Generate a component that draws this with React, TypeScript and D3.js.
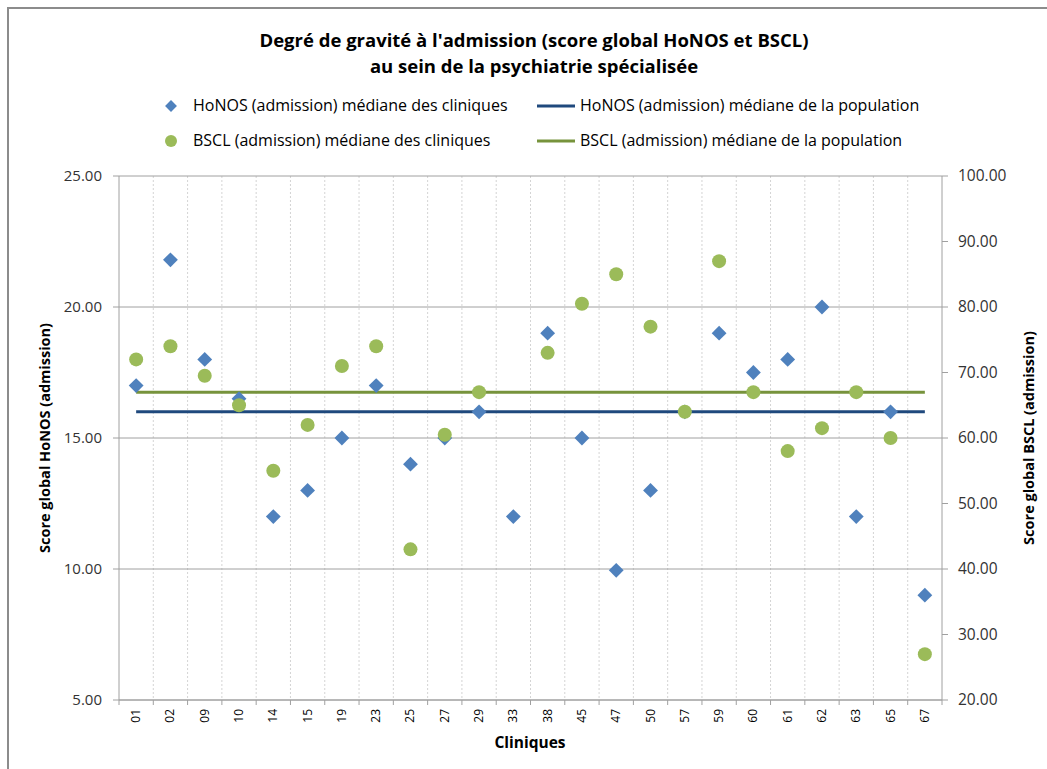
import React from "react";
import * as d3 from "d3";

const categories = ["01","02","09","10","14","15","19","23","25","27","29","33","38","45","47","50","57","59","60","61","62","63","65","67"];
const honosValues: (number | null)[] = [17,21.8,18,16.5,12,13,15,17,14,15,16,12,19,15,9.95,13,16,19,17.5,18,20,12,16,9];
const bsclValues: (number | null)[] = [72,74,69.5,65,55,62,71,74,43,60.5,67,null,73,80.5,85,77,64,87,67,58,61.5,67,60,27];
const honosMedian = 16;
const bsclMedian = 67;
const leftTicks = [5,10,15,20,25];
const rightTicks = [20,30,40,50,60,70,80,90,100];

const W = 1047, H = 769;
const M = { left: 119, right: 942, top: 176, bottom: 700 };
const FONT = "'Open Sans', Lato, sans-serif";
const BLUE = "#4F81BD", GREEN = "#9BBB59", DBLUE = "#1F497D", DGREEN = "#77933C";

export default function App() {
  const x = d3.scaleBand<string>().domain(categories).range([M.left, M.right]);
  const yL = d3.scaleLinear().domain([5, 25]).range([M.bottom, M.top]);
  const yR = d3.scaleLinear().domain([20, 100]).range([M.bottom, M.top]);
  const cx = (c: string) => (x(c) as number) + x.bandwidth() / 2;
  const diamond = d3.symbol().type(d3.symbolDiamond2).size(140)();
  const boundaries = d3.range(categories.length + 1).map(i => M.left + i * x.bandwidth());
  const first = cx(categories[0]), last = cx(categories[categories.length - 1]);

  return (
    <svg width={W} height={H} style={{ position: "absolute", left: 0, top: 0, fontFamily: FONT }}>
      <rect x={0} y={0} width={W} height={H} fill="#fff" />
      <rect x={8} y={8} width={W + 20} height={H + 20} fill="none" stroke="#8c8c8c" strokeWidth={2} />
      <text x={534} y={47} textAnchor="middle" fontSize={18.5} fontWeight="bold" fill="#000">Degré de gravité à l'admission (score global HoNOS et BSCL)</text>
      <text x={534} y={73} textAnchor="middle" fontSize={18.5} fontWeight="bold" fill="#000">au sein de la psychiatrie spécialisée</text>

      {/* legend */}
      <path d={diamond as string} transform="translate(171,106) scale(0.8)" fill={BLUE} />
      <text x={193} y={111} fontSize={16} fill="#000">HoNOS (admission) médiane des cliniques</text>
      <line x1={537} x2={575} y1={106} y2={106} stroke={DBLUE} strokeWidth={3} />
      <text x={580} y={111} fontSize={16} fill="#000">HoNOS (admission) médiane de la population</text>
      <circle cx={171} cy={141} r={6} fill={GREEN} />
      <text x={193} y={146} fontSize={16} fill="#000">BSCL (admission) médiane des cliniques</text>
      <line x1={537} x2={575} y1={141} y2={141} stroke={DGREEN} strokeWidth={3} />
      <text x={580} y={146} fontSize={16} fill="#000">BSCL (admission) médiane de la population</text>

      {/* vertical gridlines */}
      {boundaries.slice(1, -1).map((b, i) => (
        <line key={"vg" + i} x1={b} x2={b} y1={M.top} y2={M.bottom} stroke="#d4d4d4" strokeDasharray="2,2" />
      ))}
      {/* horizontal gridlines */}
      {leftTicks.map(t => (
        <line key={"hg" + t} x1={M.left} x2={M.right} y1={yL(t)} y2={yL(t)} stroke="#a0a0a0" />
      ))}
      {/* axes */}
      <line x1={M.left} x2={M.left} y1={M.top} y2={M.bottom} stroke="#a0a0a0" />
      <line x1={M.right} x2={M.right} y1={M.top} y2={M.bottom} stroke="#a0a0a0" />
      <line x1={M.left} x2={M.right} y1={M.bottom} y2={M.bottom} stroke="#a0a0a0" />
      {leftTicks.map(t => (
        <g key={"lt" + t}>
          <line x1={M.left - 6} x2={M.left} y1={yL(t)} y2={yL(t)} stroke="#a0a0a0" />
          <text x={102} y={yL(t) + 5} textAnchor="end" fontSize={15} fill="#333">{t.toFixed(2)}</text>
        </g>
      ))}
      {rightTicks.map(t => (
        <g key={"rt" + t}>
          <line x1={M.right} x2={M.right + 6} y1={yR(t)} y2={yR(t)} stroke="#a0a0a0" />
          <text x={958} y={yR(t) + 5} textAnchor="start" fontSize={15.5} fill="#333">{t.toFixed(2)}</text>
        </g>
      ))}
      {boundaries.map((b, i) => (
        <line key={"bt" + i} x1={b} x2={b} y1={M.bottom} y2={M.bottom + 5} stroke="#a0a0a0" />
      ))}
      {categories.map(c => (
        <text key={"xl" + c} transform={`translate(${cx(c) + 4},${M.bottom + 9}) rotate(-90)`} textAnchor="end" fontSize={12} fill="#000">{c}</text>
      ))}
      <text x={530} y={748} textAnchor="middle" fontSize={15.5} fontWeight="bold" fill="#000">Cliniques</text>
      <text transform={`translate(50,438) rotate(-90)`} textAnchor="middle" fontSize={14.5} fontWeight="bold" fill="#000">Score global HoNOS (admission)</text>
      <text transform={`translate(1034,438) rotate(-90)`} textAnchor="middle" fontSize={14.5} fontWeight="bold" fill="#000">Score global BSCL (admission)</text>

      {/* median lines */}
      <line x1={first} x2={last} y1={yL(honosMedian)} y2={yL(honosMedian)} stroke={DBLUE} strokeWidth={3} />
      <line x1={first} x2={last} y1={yR(bsclMedian)} y2={yR(bsclMedian)} stroke={DGREEN} strokeWidth={3} />

      {/* points */}
      {categories.map((c, i) => honosValues[i] == null ? null : (
        <path key={"h" + c} d={diamond as string} transform={`translate(${cx(c)},${yL(honosValues[i] as number)})`} fill={BLUE} />
      ))}
      {categories.map((c, i) => bsclValues[i] == null ? null : (
        <circle key={"b" + c} cx={cx(c)} cy={yR(bsclValues[i] as number)} r={7} fill={GREEN} />
      ))}
    </svg>
  );
}
